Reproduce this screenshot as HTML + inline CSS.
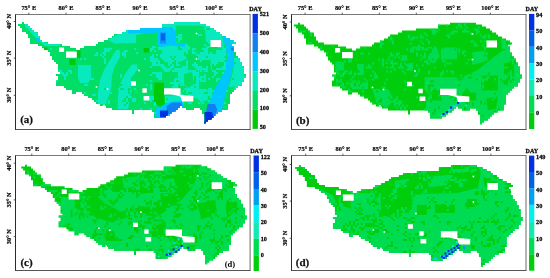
<!DOCTYPE html>
<html><head><meta charset="utf-8"><title>Figure</title>
<style>
html,body{margin:0;padding:0;background:#fff}
svg{display:block}
.t{font:bold 6.8px "Liberation Serif",serif;fill:#0a0a0a;stroke:#0a0a0a;stroke-width:0.22px}
.n{font:bold 6.9px "Liberation Serif",serif;fill:#0a0a0a;stroke:#0a0a0a;stroke-width:0.28px}
.dy{font:bold 6.5px "Liberation Serif",serif;fill:#0a0a0a;stroke:#0a0a0a;stroke-width:0.28px}
.lab{font:bold 11px "Liberation Serif",serif;fill:#111;stroke:#111;stroke-width:0.25px}
</style></head><body>
<svg width="550" height="278" viewBox="0 0 550 278">
<rect width="550" height="278" fill="#fff"/>
<defs><clipPath id="cp"><path d="M22 22h2v2h-2zM174 22h26v2h-26zM18 24h10v2h-10zM162 24h44v2h-44zM20 26h10v2h-10zM162 26h48v2h-48zM22 28h10v2h-10zM140 28h74v2h-74zM22 30h12v2h-12zM126 30h90v2h-90zM26 32h12v2h-12zM122 32h98v2h-98zM28 34h10v2h-10zM114 34h108v2h-108zM28 36h12v2h-12zM112 36h114v2h-114zM30 38h10v2h-10zM108 38h122v2h-122zM30 40h12v2h-12zM104 40h130v2h-130zM30 42h18v2h-18zM98 42h138v2h-138zM38 44h24v2h-24zM96 44h136v2h-136zM42 46h28v2h-28zM84 46h150v2h-150zM44 48h32v2h-32zM80 48h154v2h-154zM48 50h186v2h-186zM50 52h186v2h-186zM50 54h186v2h-186zM52 56h186v2h-186zM52 58h188v2h-188zM54 60h186v2h-186zM56 62h186v2h-186zM58 64h184v2h-184zM58 66h186v2h-186zM58 68h186v2h-186zM58 70h186v2h-186zM60 72h184v2h-184zM56 74h190v2h-190zM58 76h188v2h-188zM58 78h186v2h-186zM56 80h188v2h-188zM56 82h186v2h-186zM56 84h186v2h-186zM64 86h174v2h-174zM66 88h170v2h-170zM72 90h162v2h-162zM72 92h4v2h-4zM82 92h150v2h-150zM84 94h146v2h-146zM88 96h142v2h-142zM92 98h138v2h-138zM94 100h136v2h-136zM96 102h134v2h-134zM100 104h128v2h-128zM106 106h74v2h-74zM182 106h46v2h-46zM112 108h66v2h-66zM186 108h8v2h-8zM200 108h28v2h-28zM132 110h2v2h-2zM152 110h24v2h-24zM202 110h20v2h-20zM132 112h2v2h-2zM154 112h18v2h-18zM202 112h16v2h-16zM154 114h16v2h-16zM204 114h12v2h-12zM154 116h12v2h-12zM204 116h10v2h-10zM204 118h8v2h-8zM204 120h4v2h-4zM204 122h2v2h-2z"/></clipPath></defs><g clip-path="url(#cp)"><rect x="0" y="0" width="275" height="139" fill="#00DE66"/><polygon points="25,22 29,25 33,29 38,33 41,39 44,42 48,43.5 58,43.5 58,46 45,46 38,40 33,35 28,29 25,27" fill="#06EABE"/><polygon points="108,40 122,32 129,29 140,27 144,27 144,33 136,35 136,43 115,43.5" fill="#06EABE"/><polygon points="160,24 176,22 176,32 160,32" fill="#06EABE"/><polygon points="174,20 212,20 212,48 174,48" fill="#06EABE"/><polygon points="175.5,25.8 200,25.8 206,27 210,30 210,40 206,50 188,50 188,44 175.5,42" fill="#00DE66"/><polygon points="78,65 91,65 91,78 88,83 80,83 78,78" fill="#06EABE"/><polygon points="116,50 120,50 120,57 115,66 112,75 111,90 107,100 106,104 98,104 98,92 100,80 104,70 110,60" fill="#06EABE"/><polygon points="132,64.5 137,64.5 137,70 131,78 130.5,95 128,109 117.5,109 118,95 120,84 125,74" fill="#06EABE"/><polygon points="150,52 158,47 176,45 188,46 188,58 180,62 179,72 165,72 160,66 150,66" fill="#06EABE"/><polygon points="178,62 188,62 188,70 199,70 199,89 207,89 210,99 196,104 182,104 178,96 185,88 178,80" fill="#06EABE"/><polygon points="165,95.8 180,95.8 182,102 178,104 165,104" fill="#06EABE"/><polygon points="203,23.5 206,24 212,27.5 217,31 222,34.5 224,48 225,70 211,70 210,54 206,44 205,27" fill="#06EABE"/><polygon points="232,40 237,43 233,46 236,56 240,59 244,68 247,76 243,81 242.5,84 237,89 231,93 229,86 232,76 234,66 234,50" fill="#06EABE"/><polygon points="227,88 235,86 232,94 230,99 228.5,107 222,110 224,100" fill="#00DE66"/><polygon points="184,74 192,72 194,84 188,88 184,84" fill="#00DE66"/><polygon points="196,60 199,60 199,70 196,70" fill="#00DE66"/><polygon points="128,29.5 140,28 140,26.5 160,26.5 160,32 152,33 140,33 128,33.5" fill="#00C6FF"/><polygon points="157,27 172,27 176,32 176,45 160,47 157,45" fill="#00C6FF"/><polygon points="175,43 185,43 185,46.5 175,46.5" fill="#00C6FF"/><polygon points="36.5,38 40,38 40,41.5 36.5,41.5" fill="#00C6FF"/><polygon points="222,34.5 227,37.5 232.4,40 233.5,50 233,66 231,76 228,86 224,100 222,110 217,113.5 213,118 206.6,122.3 204,124.2 204.7,119 207,110 211,98 215,88 220,80 225,70 227,58 226,48" fill="#00C6FF"/><polygon points="156,108 165,103 182,100 184,107.6 176,110.8 170,114 166.5,117.2 155,117.2" fill="#00C6FF"/><polygon points="160,32.5 166,32.5 166,43.5 160,43.5" fill="#1090F8"/><polygon points="166.6,106 172,102.4 181.3,102.4 182.5,107 175.5,110.8 170.4,114 168,114 166.6,110" fill="#1080F0"/><polygon points="231,47.5 233.6,47.5 233.6,50.7 231,50.7" fill="#1080F0"/><polygon points="207.5,104 215,104 217.3,110 215,115.5 211,120 205,122 206,112" fill="#1080F0"/><polygon points="161,33.6 165,33.6 165,40.5 161,40.5" fill="#0860F0"/><polygon points="160,110.6 168,110.6 168,115 166.5,117.2 160,117.2" fill="#0030E0"/><polygon points="204.5,112 212,112 213.6,117.8 206.6,122.3 204,124.2 204.7,119" fill="#0030E0"/><polygon points="41.8,47.5 47.5,47.5 47.5,50.7 41.8,50.7" fill="#00CA08"/><polygon points="75.6,50.4 80.6,50.4 80.6,58 75.6,58" fill="#00CA08"/><polygon points="69.3,59 75.6,59 75.6,65 69.3,65" fill="#00CA08"/><polygon points="143.6,48 149.4,48 149.4,52.4 143.6,52.4" fill="#00CA08"/><polygon points="153.8,82.5 164,82.5 164,95 165,104 160,107 153.8,102" fill="#00CA08"/><path d="M206 28h2v2h-2zM208 28h2v2h-2zM206 42h2v2h-2zM210 42h2v2h-2zM206 44h2v2h-2zM208 44h2v2h-2zM210 44h2v2h-2zM212 44h2v2h-2zM214 44h2v2h-2zM178 46h2v2h-2zM210 46h2v2h-2zM212 46h2v2h-2zM214 46h2v2h-2zM216 46h2v2h-2zM154 48h2v2h-2zM156 48h2v2h-2zM178 48h2v2h-2zM180 48h2v2h-2zM208 48h2v2h-2zM210 48h2v2h-2zM212 48h2v2h-2zM214 48h2v2h-2zM216 48h2v2h-2zM218 48h2v2h-2zM220 48h2v2h-2zM152 50h2v2h-2zM156 50h2v2h-2zM158 50h2v2h-2zM160 50h2v2h-2zM208 50h2v2h-2zM210 50h2v2h-2zM212 50h2v2h-2zM214 50h2v2h-2zM150 52h2v2h-2zM152 52h2v2h-2zM154 52h2v2h-2zM156 52h2v2h-2zM158 52h2v2h-2zM160 52h2v2h-2zM184 52h2v2h-2zM212 52h2v2h-2zM214 52h2v2h-2zM234 52h2v2h-2zM150 54h2v2h-2zM154 54h2v2h-2zM158 54h2v2h-2zM184 54h2v2h-2zM186 54h2v2h-2zM234 54h2v2h-2zM154 56h2v2h-2zM156 56h2v2h-2zM158 56h2v2h-2zM170 56h2v2h-2zM174 56h2v2h-2zM186 56h2v2h-2zM234 56h2v2h-2zM236 56h2v2h-2zM158 58h2v2h-2zM160 58h2v2h-2zM172 58h2v2h-2zM160 60h2v2h-2zM162 60h2v2h-2zM174 60h2v2h-2zM150 62h2v2h-2zM156 62h2v2h-2zM160 62h2v2h-2zM162 62h2v2h-2zM164 62h2v2h-2zM166 62h2v2h-2zM172 62h2v2h-2zM174 62h2v2h-2zM178 62h2v2h-2zM180 62h2v2h-2zM182 62h2v2h-2zM184 62h2v2h-2zM218 62h2v2h-2zM220 62h2v2h-2zM222 62h2v2h-2zM234 62h2v2h-2zM150 64h2v2h-2zM164 64h2v2h-2zM166 64h2v2h-2zM170 64h2v2h-2zM174 64h2v2h-2zM180 64h2v2h-2zM182 64h2v2h-2zM184 64h2v2h-2zM212 64h2v2h-2zM216 64h2v2h-2zM218 64h2v2h-2zM220 64h2v2h-2zM222 64h2v2h-2zM166 66h2v2h-2zM168 66h2v2h-2zM174 66h2v2h-2zM176 66h2v2h-2zM178 66h2v2h-2zM180 66h2v2h-2zM212 66h2v2h-2zM214 66h2v2h-2zM216 66h2v2h-2zM218 66h2v2h-2zM220 66h2v2h-2zM172 68h2v2h-2zM212 68h2v2h-2zM214 68h2v2h-2zM170 70h2v2h-2zM196 70h2v2h-2zM244 74h2v2h-2zM194 76h2v2h-2zM194 78h2v2h-2zM232 78h2v2h-2zM194 80h2v2h-2zM194 82h2v2h-2zM120 84h2v2h-2zM184 86h2v2h-2zM194 86h2v2h-2zM104 88h2v2h-2zM120 88h2v2h-2zM122 88h2v2h-2zM128 88h2v2h-2zM128 90h2v2h-2zM184 90h2v2h-2zM128 92h2v2h-2zM182 92h2v2h-2zM184 92h2v2h-2zM188 92h2v2h-2zM190 92h2v2h-2zM204 92h2v2h-2zM206 92h2v2h-2zM184 94h2v2h-2zM186 94h2v2h-2zM126 96h2v2h-2zM186 96h2v2h-2zM190 96h2v2h-2zM208 96h2v2h-2zM124 98h2v2h-2zM128 98h2v2h-2zM166 98h2v2h-2zM190 98h2v2h-2zM192 98h2v2h-2zM194 98h2v2h-2zM196 98h2v2h-2zM208 98h2v2h-2zM122 100h2v2h-2zM124 100h2v2h-2zM128 100h2v2h-2zM184 100h2v2h-2zM186 100h2v2h-2zM188 100h2v2h-2zM190 100h2v2h-2zM192 100h2v2h-2zM194 100h2v2h-2zM196 100h2v2h-2zM198 100h2v2h-2zM126 102h2v2h-2zM184 102h2v2h-2zM186 102h2v2h-2zM192 102h2v2h-2zM194 102h2v2h-2zM196 102h2v2h-2zM124 104h2v2h-2z" fill="#00DE66"/><path d="M204 28h2v2h-2zM178 34h2v2h-2zM180 34h2v2h-2zM198 34h2v2h-2zM200 34h2v2h-2zM176 36h2v2h-2zM178 36h2v2h-2zM180 36h2v2h-2zM178 38h2v2h-2zM180 38h2v2h-2zM178 40h2v2h-2zM58 44h2v2h-2zM204 44h2v2h-2zM152 46h2v2h-2zM154 46h2v2h-2zM188 46h2v2h-2zM206 46h2v2h-2zM50 48h2v2h-2zM104 48h2v2h-2zM106 48h2v2h-2zM108 48h2v2h-2zM110 48h2v2h-2zM134 48h2v2h-2zM150 48h2v2h-2zM152 48h2v2h-2zM188 48h2v2h-2zM192 48h2v2h-2zM194 48h2v2h-2zM202 48h2v2h-2zM204 48h2v2h-2zM206 48h2v2h-2zM224 48h2v2h-2zM104 50h2v2h-2zM106 50h2v2h-2zM108 50h2v2h-2zM124 50h2v2h-2zM126 50h2v2h-2zM150 50h2v2h-2zM192 50h2v2h-2zM204 50h2v2h-2zM206 50h2v2h-2zM224 50h2v2h-2zM96 52h2v2h-2zM102 52h2v2h-2zM104 52h2v2h-2zM122 52h2v2h-2zM124 52h2v2h-2zM136 52h2v2h-2zM192 52h2v2h-2zM194 52h2v2h-2zM200 52h2v2h-2zM202 52h2v2h-2zM204 52h2v2h-2zM206 52h2v2h-2zM224 52h2v2h-2zM94 54h2v2h-2zM96 54h2v2h-2zM100 54h2v2h-2zM104 54h2v2h-2zM122 54h2v2h-2zM124 54h2v2h-2zM196 54h2v2h-2zM198 54h2v2h-2zM200 54h2v2h-2zM202 54h2v2h-2zM204 54h2v2h-2zM206 54h2v2h-2zM208 54h2v2h-2zM224 54h2v2h-2zM102 56h2v2h-2zM124 56h2v2h-2zM198 56h2v2h-2zM200 56h2v2h-2zM202 56h2v2h-2zM204 56h2v2h-2zM208 56h2v2h-2zM80 58h2v2h-2zM84 58h2v2h-2zM104 58h2v2h-2zM144 58h2v2h-2zM198 58h2v2h-2zM200 58h2v2h-2zM202 58h2v2h-2zM204 58h2v2h-2zM206 58h2v2h-2zM208 58h2v2h-2zM224 58h2v2h-2zM104 60h2v2h-2zM186 60h2v2h-2zM200 60h2v2h-2zM104 62h2v2h-2zM194 62h2v2h-2zM224 62h2v2h-2zM192 64h2v2h-2zM194 64h2v2h-2zM196 64h2v2h-2zM224 64h2v2h-2zM150 66h2v2h-2zM194 66h2v2h-2zM196 66h2v2h-2zM198 66h2v2h-2zM200 66h2v2h-2zM206 66h2v2h-2zM224 66h2v2h-2zM136 68h2v2h-2zM196 68h2v2h-2zM198 68h2v2h-2zM200 68h2v2h-2zM202 68h2v2h-2zM204 68h2v2h-2zM206 68h2v2h-2zM224 68h2v2h-2zM58 70h2v2h-2zM60 70h2v2h-2zM68 70h2v2h-2zM70 70h2v2h-2zM200 70h2v2h-2zM204 70h2v2h-2zM206 70h2v2h-2zM212 70h2v2h-2zM214 70h2v2h-2zM60 72h2v2h-2zM62 72h2v2h-2zM66 72h2v2h-2zM70 72h2v2h-2zM152 72h2v2h-2zM154 72h2v2h-2zM156 72h2v2h-2zM158 72h2v2h-2zM160 72h2v2h-2zM214 72h2v2h-2zM216 72h2v2h-2zM222 72h2v2h-2zM62 74h2v2h-2zM64 74h2v2h-2zM66 74h2v2h-2zM120 74h2v2h-2zM150 74h2v2h-2zM156 74h2v2h-2zM158 74h2v2h-2zM160 74h2v2h-2zM204 74h2v2h-2zM214 74h2v2h-2zM64 76h2v2h-2zM120 76h2v2h-2zM156 76h2v2h-2zM158 76h2v2h-2zM160 76h2v2h-2zM200 76h2v2h-2zM202 76h2v2h-2zM204 76h2v2h-2zM212 76h2v2h-2zM64 78h2v2h-2zM90 78h2v2h-2zM92 78h2v2h-2zM158 78h2v2h-2zM160 78h2v2h-2zM174 78h2v2h-2zM176 78h2v2h-2zM198 78h2v2h-2zM200 78h2v2h-2zM204 78h2v2h-2zM208 78h2v2h-2zM216 78h2v2h-2zM218 78h2v2h-2zM56 80h2v2h-2zM150 80h2v2h-2zM174 80h2v2h-2zM200 80h2v2h-2zM202 80h2v2h-2zM204 80h2v2h-2zM216 80h2v2h-2zM170 82h2v2h-2zM172 82h2v2h-2zM174 82h2v2h-2zM176 82h2v2h-2zM178 82h2v2h-2zM84 84h2v2h-2zM86 84h2v2h-2zM146 84h2v2h-2zM150 84h2v2h-2zM174 84h2v2h-2zM176 84h2v2h-2zM180 84h2v2h-2zM150 86h2v2h-2zM172 86h2v2h-2zM174 86h2v2h-2zM176 86h2v2h-2zM118 88h2v2h-2zM134 88h2v2h-2zM150 88h2v2h-2zM208 88h2v2h-2zM210 88h2v2h-2zM130 90h2v2h-2zM170 90h2v2h-2zM172 90h2v2h-2zM208 90h2v2h-2zM210 90h2v2h-2zM212 90h2v2h-2zM226 90h2v2h-2zM84 92h2v2h-2zM110 92h2v2h-2zM168 92h2v2h-2zM170 92h2v2h-2zM208 92h2v2h-2zM210 92h2v2h-2zM92 94h2v2h-2zM94 94h2v2h-2zM172 94h2v2h-2zM208 94h2v2h-2zM210 94h2v2h-2zM130 96h2v2h-2zM150 96h2v2h-2zM152 96h2v2h-2zM210 96h2v2h-2zM132 98h2v2h-2zM134 98h2v2h-2zM148 98h2v2h-2zM150 98h2v2h-2zM152 98h2v2h-2zM96 100h2v2h-2zM108 100h2v2h-2zM132 100h2v2h-2zM134 100h2v2h-2zM150 100h2v2h-2zM208 100h2v2h-2zM108 102h2v2h-2zM144 102h2v2h-2zM154 102h2v2h-2zM198 102h2v2h-2zM202 102h2v2h-2zM224 102h2v2h-2zM154 104h2v2h-2zM140 108h2v2h-2zM150 108h2v2h-2zM154 112h2v2h-2z" fill="#06EABE"/><polygon points="59,47.5 64.1,47.5 64.1,52 59,52" fill="#fff"/><polygon points="66,51.4 76.8,51.4 76.8,57.7 66,57.7" fill="#fff"/><polygon points="210.5,40 221,40 221,47 210.5,47" fill="#fff"/><polygon points="131,81.3 136,81.3 136,85.7 131,85.7" fill="#fff"/><polygon points="142.4,88.3 146.8,88.3 146.8,92.7 142.4,92.7" fill="#fff"/><polygon points="143.6,96 149.4,96 149.4,100.4 143.6,100.4" fill="#fff"/><polygon points="164,88.3 180.5,88.3 180.5,95 193.3,96 193.3,101.6 182,101.6 180.5,96.5 172,94.6 164,94.6" fill="#fff"/><rect x="195.7" y="32.7" width="1.6" height="1.6" fill="#fff"/><rect x="138.2" y="69.7" width="1.6" height="1.6" fill="#fff"/><rect x="195.7" y="58.2" width="1.6" height="1.6" fill="#fff"/><rect x="95.7" y="86.2" width="1.6" height="1.6" fill="#fff"/><rect x="106.7" y="88.2" width="1.6" height="1.6" fill="#fff"/><rect x="103.2" y="104.7" width="1.6" height="1.6" fill="#fff"/></g><line x1="15.0" y1="14.5" x2="250.6" y2="14.5" stroke="#787878" stroke-width="1"/><line x1="250.1" y1="14.5" x2="250.1" y2="129.5" stroke="#6a6a6a" stroke-width="1"/><line x1="15.0" y1="129.5" x2="250.6" y2="129.5" stroke="#555" stroke-width="1"/><line x1="15.5" y1="14.5" x2="15.5" y2="129.5" stroke="#2a2a2a" stroke-width="1"/><line x1="28.8" y1="14.5" x2="28.8" y2="12.7" stroke="#333" stroke-width="0.8"/><text transform="translate(28.80,9.90) scale(0.94,1)" text-anchor="middle" class="t">75° E</text><line x1="66" y1="14.5" x2="66" y2="12.7" stroke="#333" stroke-width="0.8"/><text transform="translate(66.00,9.90) scale(0.94,1)" text-anchor="middle" class="t">80° E</text><line x1="103" y1="14.5" x2="103" y2="12.7" stroke="#333" stroke-width="0.8"/><text transform="translate(103.00,9.90) scale(0.94,1)" text-anchor="middle" class="t">85° E</text><line x1="140" y1="14.5" x2="140" y2="12.7" stroke="#333" stroke-width="0.8"/><text transform="translate(140.00,9.90) scale(0.94,1)" text-anchor="middle" class="t">90° E</text><line x1="177" y1="14.5" x2="177" y2="12.7" stroke="#333" stroke-width="0.8"/><text transform="translate(177.00,9.90) scale(0.94,1)" text-anchor="middle" class="t">95° E</text><line x1="214" y1="14.5" x2="214" y2="12.7" stroke="#333" stroke-width="0.8"/><text transform="translate(214.00,9.90) scale(0.94,1)" text-anchor="middle" class="t">100° E</text><line x1="15.5" y1="21.5" x2="13.7" y2="21.5" stroke="#333" stroke-width="0.8"/><text transform="translate(10.70,21.50) rotate(-90) scale(0.94,1)" text-anchor="middle" class="t">40° N</text><line x1="15.5" y1="58.1" x2="13.7" y2="58.1" stroke="#333" stroke-width="0.8"/><text transform="translate(10.70,58.10) rotate(-90) scale(0.94,1)" text-anchor="middle" class="t">35° N</text><line x1="15.5" y1="95.3" x2="13.7" y2="95.3" stroke="#333" stroke-width="0.8"/><text transform="translate(10.70,95.30) rotate(-90) scale(0.94,1)" text-anchor="middle" class="t">30° N</text><rect x="252.6" y="13.9" width="5.3" height="19.5" fill="#0030E0"/><rect x="252.6" y="33.3" width="5.3" height="19.300000000000004" fill="#1080F0"/><rect x="252.6" y="52.5" width="5.3" height="19.1" fill="#00C6FF"/><rect x="252.6" y="71.5" width="5.3" height="19.500000000000007" fill="#06EABE"/><rect x="252.6" y="90.9" width="5.3" height="18.79999999999999" fill="#00DE66"/><rect x="252.6" y="109.6" width="5.3" height="19.30000000000002" fill="#00CA08"/><text transform="translate(259.70,16.15) scale(0.9,1)" text-anchor="start" class="n">521</text><text transform="translate(259.70,35.00) scale(0.9,1)" text-anchor="start" class="n">500</text><text transform="translate(259.70,53.85) scale(0.9,1)" text-anchor="start" class="n">400</text><text transform="translate(259.70,72.70) scale(0.9,1)" text-anchor="start" class="n">300</text><text transform="translate(259.70,91.55) scale(0.9,1)" text-anchor="start" class="n">200</text><text transform="translate(259.70,110.40) scale(0.9,1)" text-anchor="start" class="n">100</text><text transform="translate(259.70,129.25) scale(0.9,1)" text-anchor="start" class="n">50</text><text transform="translate(249.20,11.00) scale(0.94,1)" text-anchor="start" class="dy">DAY</text><text x="20.2" y="123.4" class="lab">(a)</text><g transform="translate(276,0.5) scale(1)"><g clip-path="url(#cp)"><rect x="0" y="0" width="275" height="139" fill="#00CE0C"/><polygon points="150,118 150,100 165,100 165,88 178,80 201,70 217,57 227,50 236,48 252,76 240,100 204,127 190,112 170,119" fill="#00DC52"/><polygon points="59.3,61.3 68,61.3 68,76.6 62,76.6 59.3,70" fill="#00DC52"/><polygon points="81,63.5 87.6,63.5 87.6,74.4 81,74.4" fill="#00DC52"/><polygon points="109.5,59 117,59 117,63.5 109.5,63.5" fill="#00DC52"/><polygon points="124.7,54.8 131.3,54.8 131.3,60.2 124.7,60.2" fill="#00DC52"/><polygon points="72.4,82 92,82 92,88.6 76,88.6" fill="#00DC52"/><polygon points="96.4,88.6 112,88.6 118,99.5 110,108 100,100" fill="#00DC52"/><polygon points="150,47 160,46 164,56 158,63 150,60" fill="#00DC52"/><polygon points="165,47 181,47 181,58.7 165,58.7" fill="#00DC52"/><polygon points="148.6,76.7 181,76.7 181,89.8 148.6,89.8" fill="#00DC52"/><polygon points="128,64 137,62 137,70 128,70" fill="#00DC52"/><polygon points="196,52 210,50 212,60 198,64" fill="#00DC52"/><polygon points="225,38 235,42 234,50 226,48" fill="#00DC52"/><polygon points="205,75 222,75 222,90 205,90" fill="#00CE0C"/><polygon points="228,62 238,62 238,74 228,74" fill="#00CE0C"/><polygon points="186,92 200,92 200,100 186,100" fill="#00CE0C"/><polygon points="210,98 222,96 220,108 212,110" fill="#00CE0C"/><path d="M230 40h2v2h-2zM230 42h2v2h-2zM232 42h2v2h-2zM156 46h2v2h-2zM164 46h2v2h-2zM166 46h2v2h-2zM152 48h2v2h-2zM154 48h2v2h-2zM178 48h2v2h-2zM150 50h2v2h-2zM152 50h2v2h-2zM154 50h2v2h-2zM208 50h2v2h-2zM150 52h2v2h-2zM152 52h2v2h-2zM150 54h2v2h-2zM208 54h2v2h-2zM124 56h2v2h-2zM150 56h2v2h-2zM234 56h2v2h-2zM236 56h2v2h-2zM114 58h2v2h-2zM150 58h2v2h-2zM156 58h2v2h-2zM110 60h2v2h-2zM112 60h2v2h-2zM152 60h2v2h-2zM234 60h2v2h-2zM238 60h2v2h-2zM112 62h2v2h-2zM238 62h2v2h-2zM128 64h2v2h-2zM128 66h2v2h-2zM130 66h2v2h-2zM80 68h2v2h-2zM128 68h2v2h-2zM62 70h2v2h-2zM64 70h2v2h-2zM66 70h2v2h-2zM80 70h2v2h-2zM82 70h2v2h-2zM64 72h2v2h-2zM194 72h2v2h-2zM212 72h2v2h-2zM62 74h2v2h-2zM232 74h2v2h-2zM236 74h2v2h-2zM186 76h2v2h-2zM192 76h2v2h-2zM194 76h2v2h-2zM232 76h2v2h-2zM182 78h2v2h-2zM184 78h2v2h-2zM200 78h2v2h-2zM224 78h2v2h-2zM230 78h2v2h-2zM232 78h2v2h-2zM236 78h2v2h-2zM154 80h2v2h-2zM156 80h2v2h-2zM226 80h2v2h-2zM228 80h2v2h-2zM230 80h2v2h-2zM234 80h2v2h-2zM78 82h2v2h-2zM84 82h2v2h-2zM228 82h2v2h-2zM230 82h2v2h-2zM78 84h2v2h-2zM82 84h2v2h-2zM152 84h2v2h-2zM154 84h2v2h-2zM156 84h2v2h-2zM182 84h2v2h-2zM86 86h2v2h-2zM152 86h2v2h-2zM104 88h2v2h-2zM152 88h2v2h-2zM158 88h2v2h-2zM190 88h2v2h-2zM100 90h2v2h-2zM188 90h2v2h-2zM190 90h2v2h-2zM192 90h2v2h-2zM218 92h2v2h-2zM176 94h2v2h-2zM182 94h2v2h-2zM112 96h2v2h-2zM174 96h2v2h-2zM182 96h2v2h-2zM104 98h2v2h-2zM114 98h2v2h-2zM116 98h2v2h-2zM164 98h2v2h-2zM178 98h2v2h-2zM182 98h2v2h-2zM184 98h2v2h-2zM102 100h2v2h-2zM104 100h2v2h-2zM154 100h2v2h-2zM190 100h2v2h-2zM192 100h2v2h-2zM204 100h2v2h-2zM190 102h2v2h-2zM196 102h2v2h-2zM204 102h2v2h-2zM208 102h2v2h-2zM196 104h2v2h-2zM162 106h2v2h-2zM188 106h2v2h-2zM158 108h2v2h-2zM188 108h2v2h-2zM222 108h2v2h-2zM158 110h2v2h-2zM218 110h2v2h-2zM156 112h2v2h-2zM202 112h2v2h-2zM206 114h2v2h-2z" fill="#00CE0C"/><path d="M182 22h2v2h-2zM188 22h2v2h-2zM162 24h2v2h-2zM170 24h2v2h-2zM182 24h2v2h-2zM184 24h2v2h-2zM188 24h2v2h-2zM180 26h2v2h-2zM184 26h2v2h-2zM190 26h2v2h-2zM202 26h2v2h-2zM154 28h2v2h-2zM156 28h2v2h-2zM158 28h2v2h-2zM162 28h2v2h-2zM188 28h2v2h-2zM198 28h2v2h-2zM200 28h2v2h-2zM22 30h2v2h-2zM24 30h2v2h-2zM26 30h2v2h-2zM28 30h2v2h-2zM32 30h2v2h-2zM156 30h2v2h-2zM158 30h2v2h-2zM160 30h2v2h-2zM176 30h2v2h-2zM178 30h2v2h-2zM180 30h2v2h-2zM186 30h2v2h-2zM188 30h2v2h-2zM190 30h2v2h-2zM192 30h2v2h-2zM200 30h2v2h-2zM202 30h2v2h-2zM34 32h2v2h-2zM148 32h2v2h-2zM156 32h2v2h-2zM158 32h2v2h-2zM174 32h2v2h-2zM176 32h2v2h-2zM194 32h2v2h-2zM200 32h2v2h-2zM34 34h2v2h-2zM132 34h2v2h-2zM144 34h2v2h-2zM150 34h2v2h-2zM170 34h2v2h-2zM172 34h2v2h-2zM204 34h2v2h-2zM208 34h2v2h-2zM212 34h2v2h-2zM114 36h2v2h-2zM132 36h2v2h-2zM136 36h2v2h-2zM138 36h2v2h-2zM140 36h2v2h-2zM144 36h2v2h-2zM146 36h2v2h-2zM172 36h2v2h-2zM206 36h2v2h-2zM208 36h2v2h-2zM212 36h2v2h-2zM114 38h2v2h-2zM134 38h2v2h-2zM136 38h2v2h-2zM150 38h2v2h-2zM104 40h2v2h-2zM116 40h2v2h-2zM144 40h2v2h-2zM152 40h2v2h-2zM194 40h2v2h-2zM196 40h2v2h-2zM204 40h2v2h-2zM208 40h2v2h-2zM210 40h2v2h-2zM32 42h2v2h-2zM34 42h2v2h-2zM104 42h2v2h-2zM106 42h2v2h-2zM116 42h2v2h-2zM134 42h2v2h-2zM146 42h2v2h-2zM152 42h2v2h-2zM198 42h2v2h-2zM220 42h2v2h-2zM56 44h2v2h-2zM104 44h2v2h-2zM142 44h2v2h-2zM198 44h2v2h-2zM200 44h2v2h-2zM206 44h2v2h-2zM44 46h2v2h-2zM84 46h2v2h-2zM88 46h2v2h-2zM104 46h2v2h-2zM136 46h2v2h-2zM138 46h2v2h-2zM140 46h2v2h-2zM142 46h2v2h-2zM144 46h2v2h-2zM146 46h2v2h-2zM208 46h2v2h-2zM44 48h2v2h-2zM130 48h2v2h-2zM134 48h2v2h-2zM136 48h2v2h-2zM140 48h2v2h-2zM142 48h2v2h-2zM146 48h2v2h-2zM148 48h2v2h-2zM182 48h2v2h-2zM208 48h2v2h-2zM134 50h2v2h-2zM136 50h2v2h-2zM182 50h2v2h-2zM186 50h2v2h-2zM188 50h2v2h-2zM50 52h2v2h-2zM84 52h2v2h-2zM86 52h2v2h-2zM92 52h2v2h-2zM114 52h2v2h-2zM120 52h2v2h-2zM122 52h2v2h-2zM140 52h2v2h-2zM148 52h2v2h-2zM186 52h2v2h-2zM210 52h2v2h-2zM74 54h2v2h-2zM114 54h2v2h-2zM116 54h2v2h-2zM120 54h2v2h-2zM140 54h2v2h-2zM144 54h2v2h-2zM148 54h2v2h-2zM188 54h2v2h-2zM74 56h2v2h-2zM112 56h2v2h-2zM118 56h2v2h-2zM122 56h2v2h-2zM146 56h2v2h-2zM148 56h2v2h-2zM72 58h2v2h-2zM74 58h2v2h-2zM102 58h2v2h-2zM106 58h2v2h-2zM144 58h2v2h-2zM166 58h2v2h-2zM192 58h2v2h-2zM68 60h2v2h-2zM72 60h2v2h-2zM74 60h2v2h-2zM106 60h2v2h-2zM148 60h2v2h-2zM150 60h2v2h-2zM166 60h2v2h-2zM168 60h2v2h-2zM196 60h2v2h-2zM96 62h2v2h-2zM106 62h2v2h-2zM116 62h2v2h-2zM118 62h2v2h-2zM120 62h2v2h-2zM124 62h2v2h-2zM128 62h2v2h-2zM150 62h2v2h-2zM152 62h2v2h-2zM170 62h2v2h-2zM172 62h2v2h-2zM174 62h2v2h-2zM190 62h2v2h-2zM196 62h2v2h-2zM236 62h2v2h-2zM92 64h2v2h-2zM106 64h2v2h-2zM116 64h2v2h-2zM124 64h2v2h-2zM140 64h2v2h-2zM146 64h2v2h-2zM168 64h2v2h-2zM90 66h2v2h-2zM92 66h2v2h-2zM94 66h2v2h-2zM110 66h2v2h-2zM114 66h2v2h-2zM116 66h2v2h-2zM122 66h2v2h-2zM124 66h2v2h-2zM126 66h2v2h-2zM158 66h2v2h-2zM228 66h2v2h-2zM230 66h2v2h-2zM118 68h2v2h-2zM142 68h2v2h-2zM68 70h2v2h-2zM70 70h2v2h-2zM74 70h2v2h-2zM96 70h2v2h-2zM110 70h2v2h-2zM114 70h2v2h-2zM126 70h2v2h-2zM138 70h2v2h-2zM142 70h2v2h-2zM152 70h2v2h-2zM166 70h2v2h-2zM170 70h2v2h-2zM174 70h2v2h-2zM176 70h2v2h-2zM234 70h2v2h-2zM68 72h2v2h-2zM72 72h2v2h-2zM74 72h2v2h-2zM78 72h2v2h-2zM98 72h2v2h-2zM128 72h2v2h-2zM140 72h2v2h-2zM152 72h2v2h-2zM164 72h2v2h-2zM166 72h2v2h-2zM176 72h2v2h-2zM232 72h2v2h-2zM234 72h2v2h-2zM56 74h2v2h-2zM58 74h2v2h-2zM78 74h2v2h-2zM94 74h2v2h-2zM98 74h2v2h-2zM100 74h2v2h-2zM138 74h2v2h-2zM140 74h2v2h-2zM164 74h2v2h-2zM184 74h2v2h-2zM58 76h2v2h-2zM76 76h2v2h-2zM98 76h2v2h-2zM100 76h2v2h-2zM204 76h2v2h-2zM210 76h2v2h-2zM212 76h2v2h-2zM60 78h2v2h-2zM64 78h2v2h-2zM74 78h2v2h-2zM88 78h2v2h-2zM96 78h2v2h-2zM110 78h2v2h-2zM204 78h2v2h-2zM206 78h2v2h-2zM208 78h2v2h-2zM210 78h2v2h-2zM218 78h2v2h-2zM60 80h2v2h-2zM62 80h2v2h-2zM64 80h2v2h-2zM76 80h2v2h-2zM78 80h2v2h-2zM82 80h2v2h-2zM90 80h2v2h-2zM128 80h2v2h-2zM206 80h2v2h-2zM66 82h2v2h-2zM70 82h2v2h-2zM108 82h2v2h-2zM132 82h2v2h-2zM60 84h2v2h-2zM64 84h2v2h-2zM66 84h2v2h-2zM130 84h2v2h-2zM132 84h2v2h-2zM136 84h2v2h-2zM206 84h2v2h-2zM66 86h2v2h-2zM68 86h2v2h-2zM106 86h2v2h-2zM108 86h2v2h-2zM206 86h2v2h-2zM72 88h2v2h-2zM128 88h2v2h-2zM204 88h2v2h-2zM72 90h2v2h-2zM74 90h2v2h-2zM86 90h2v2h-2zM150 90h2v2h-2zM154 90h2v2h-2zM152 92h2v2h-2zM86 94h2v2h-2zM154 94h2v2h-2zM162 94h2v2h-2zM120 96h2v2h-2zM140 96h2v2h-2zM152 96h2v2h-2zM154 96h2v2h-2zM218 96h2v2h-2zM118 98h2v2h-2zM120 98h2v2h-2zM152 98h2v2h-2zM192 98h2v2h-2zM216 98h2v2h-2zM100 100h2v2h-2zM116 100h2v2h-2zM118 100h2v2h-2zM122 100h2v2h-2zM124 100h2v2h-2zM96 102h2v2h-2zM102 102h2v2h-2zM118 102h2v2h-2zM120 102h2v2h-2zM122 102h2v2h-2zM124 102h2v2h-2zM102 104h2v2h-2zM118 104h2v2h-2zM122 104h2v2h-2zM126 104h2v2h-2zM130 104h2v2h-2zM120 106h2v2h-2zM124 106h2v2h-2zM128 106h2v2h-2zM124 108h2v2h-2zM128 108h2v2h-2zM148 108h2v2h-2z" fill="#00DC52"/><polyline points="169,113 176,107.5 182,103" fill="none" stroke="#28B4F0" stroke-width="1.6"/><rect x="164.6" y="114.1" width="1.8" height="1.8" fill="#20E0E8"/><rect x="172.1" y="108.6" width="1.8" height="1.8" fill="#20E0E8"/><rect x="177.6" y="105.1" width="1.8" height="1.8" fill="#20E0E8"/><rect x="183.1" y="100.1" width="1.8" height="1.8" fill="#20E0E8"/><rect x="189.1" y="104.1" width="1.8" height="1.8" fill="#20E0E8"/><rect x="166.5" y="112.5" width="2.1" height="2.1" fill="#0030E0"/><rect x="170" y="110.5" width="2.1" height="2.1" fill="#0030E0"/><rect x="174" y="106" width="2.1" height="2.1" fill="#0030E0"/><rect x="181" y="101.5" width="2.1" height="2.1" fill="#0030E0"/><polygon points="59,47.5 64.1,47.5 64.1,52 59,52" fill="#fff"/><polygon points="66,51.4 76.8,51.4 76.8,57.7 66,57.7" fill="#fff"/><polygon points="210.5,40 221,40 221,47 210.5,47" fill="#fff"/><polygon points="131,81.3 136,81.3 136,85.7 131,85.7" fill="#fff"/><polygon points="142.4,88.3 146.8,88.3 146.8,92.7 142.4,92.7" fill="#fff"/><polygon points="143.6,96 149.4,96 149.4,100.4 143.6,100.4" fill="#fff"/><polygon points="164,88.3 180.5,88.3 180.5,95 193.3,96 193.3,101.6 182,101.6 180.5,96.5 172,94.6 164,94.6" fill="#fff"/><rect x="195.7" y="32.7" width="1.6" height="1.6" fill="#fff"/><rect x="138.2" y="69.7" width="1.6" height="1.6" fill="#fff"/><rect x="195.7" y="58.2" width="1.6" height="1.6" fill="#fff"/><rect x="95.7" y="86.2" width="1.6" height="1.6" fill="#fff"/><rect x="106.7" y="88.2" width="1.6" height="1.6" fill="#fff"/><rect x="103.2" y="104.7" width="1.6" height="1.6" fill="#fff"/></g></g><line x1="291.0" y1="14.5" x2="526.5" y2="14.5" stroke="#787878" stroke-width="1"/><line x1="526" y1="14.5" x2="526" y2="129.5" stroke="#6a6a6a" stroke-width="1"/><line x1="291.0" y1="129.5" x2="526.5" y2="129.5" stroke="#555" stroke-width="1"/><line x1="291.5" y1="14.5" x2="291.5" y2="129.5" stroke="#2a2a2a" stroke-width="1"/><line x1="305.1" y1="14.5" x2="305.1" y2="12.7" stroke="#333" stroke-width="0.8"/><text transform="translate(305.10,9.90) scale(0.94,1)" text-anchor="middle" class="t">75° E</text><line x1="342.3" y1="14.5" x2="342.3" y2="12.7" stroke="#333" stroke-width="0.8"/><text transform="translate(342.30,9.90) scale(0.94,1)" text-anchor="middle" class="t">80° E</text><line x1="379.3" y1="14.5" x2="379.3" y2="12.7" stroke="#333" stroke-width="0.8"/><text transform="translate(379.30,9.90) scale(0.94,1)" text-anchor="middle" class="t">85° E</text><line x1="416.3" y1="14.5" x2="416.3" y2="12.7" stroke="#333" stroke-width="0.8"/><text transform="translate(416.30,9.90) scale(0.94,1)" text-anchor="middle" class="t">90° E</text><line x1="453.3" y1="14.5" x2="453.3" y2="12.7" stroke="#333" stroke-width="0.8"/><text transform="translate(453.30,9.90) scale(0.94,1)" text-anchor="middle" class="t">95° E</text><line x1="490.3" y1="14.5" x2="490.3" y2="12.7" stroke="#333" stroke-width="0.8"/><text transform="translate(490.30,9.90) scale(0.94,1)" text-anchor="middle" class="t">100° E</text><line x1="291.5" y1="22.0" x2="289.7" y2="22.0" stroke="#333" stroke-width="0.8"/><text transform="translate(286.70,22.00) rotate(-90) scale(0.94,1)" text-anchor="middle" class="t">40° N</text><line x1="291.5" y1="58.6" x2="289.7" y2="58.6" stroke="#333" stroke-width="0.8"/><text transform="translate(286.70,58.60) rotate(-90) scale(0.94,1)" text-anchor="middle" class="t">35° N</text><line x1="291.5" y1="95.8" x2="289.7" y2="95.8" stroke="#333" stroke-width="0.8"/><text transform="translate(286.70,95.80) rotate(-90) scale(0.94,1)" text-anchor="middle" class="t">30° N</text><rect x="529" y="13.9" width="5.3" height="16.5" fill="#0030E0"/><rect x="529" y="30.3" width="5.3" height="16.500000000000004" fill="#0060E6"/><rect x="529" y="46.7" width="5.3" height="16.5" fill="#00A0F0"/><rect x="529" y="63.1" width="5.3" height="16.5" fill="#00F0F0"/><rect x="529" y="79.5" width="5.3" height="16.500000000000007" fill="#14E8B4"/><rect x="529" y="95.9" width="5.3" height="16.79999999999999" fill="#00DC52"/><rect x="529" y="112.6" width="5.3" height="16.400000000000013" fill="#00CE0C"/><text transform="translate(536.10,17.05) scale(0.9,1)" text-anchor="start" class="n">94</text><text transform="translate(536.10,33.40) scale(0.9,1)" text-anchor="start" class="n">50</text><text transform="translate(536.10,49.75) scale(0.9,1)" text-anchor="start" class="n">40</text><text transform="translate(536.10,66.10) scale(0.9,1)" text-anchor="start" class="n">30</text><text transform="translate(536.10,82.45) scale(0.9,1)" text-anchor="start" class="n">20</text><text transform="translate(536.10,98.80) scale(0.9,1)" text-anchor="start" class="n">10</text><text transform="translate(536.10,115.15) scale(0.9,1)" text-anchor="start" class="n">0</text><text transform="translate(525.60,11.00) scale(0.94,1)" text-anchor="start" class="dy">DAY</text><text x="295.9" y="123.5" class="lab">(b)</text><g transform="translate(3.2880000000000003,143.024) scale(0.99,0.98)"><g clip-path="url(#cp)"><rect x="0" y="0" width="275" height="139" fill="#00CE0C"/><polygon points="50,58 70,65 90,75 110,81 133,73 156,75 180,58 190,47 196,35 200,18 252,18 252,130 50,130" fill="#00DC52"/><polygon points="58.2,55 72,55 72,66 58.2,66" fill="#00DC52"/><polygon points="104,50 136,50 136,66 118,70 104,62" fill="#00DC52"/><polygon points="150,38 172,36 176,50 152,52" fill="#00DC52"/><polygon points="120,36 136,34 138,44 122,46" fill="#00DC52"/><polygon points="136,52 158,50 160,62 150,66 136,64" fill="#00DC52"/><polygon points="196,62 214,58 216,72 200,78" fill="#00CE0C"/><polygon points="150,80 164,80 164,96 150,96" fill="#00CE0C"/><polygon points="225,60 236,60 236,72 225,72" fill="#00CE0C"/><polygon points="100,90 112,90 114,100 104,100" fill="#00CE0C"/><polygon points="205,40 212,48 204,52" fill="#00CE0C"/><path d="M204 24h2v2h-2zM206 26h2v2h-2zM196 30h2v2h-2zM200 30h2v2h-2zM202 30h2v2h-2zM204 30h2v2h-2zM196 32h2v2h-2zM198 32h2v2h-2zM208 32h2v2h-2zM196 34h2v2h-2zM202 34h2v2h-2zM206 34h2v2h-2zM122 36h2v2h-2zM162 36h2v2h-2zM198 36h2v2h-2zM204 36h2v2h-2zM124 38h2v2h-2zM134 38h2v2h-2zM152 38h2v2h-2zM154 38h2v2h-2zM156 38h2v2h-2zM160 38h2v2h-2zM208 38h2v2h-2zM226 38h2v2h-2zM228 38h2v2h-2zM130 40h2v2h-2zM132 40h2v2h-2zM152 40h2v2h-2zM156 40h2v2h-2zM168 40h2v2h-2zM200 40h2v2h-2zM206 40h2v2h-2zM228 40h2v2h-2zM230 40h2v2h-2zM132 42h2v2h-2zM134 42h2v2h-2zM150 42h2v2h-2zM158 42h2v2h-2zM160 42h2v2h-2zM168 42h2v2h-2zM200 42h2v2h-2zM208 42h2v2h-2zM224 42h2v2h-2zM228 42h2v2h-2zM230 42h2v2h-2zM152 44h2v2h-2zM156 44h2v2h-2zM158 44h2v2h-2zM160 44h2v2h-2zM162 44h2v2h-2zM168 44h2v2h-2zM170 44h2v2h-2zM172 44h2v2h-2zM200 44h2v2h-2zM226 44h2v2h-2zM228 44h2v2h-2zM230 44h2v2h-2zM158 46h2v2h-2zM162 46h2v2h-2zM166 46h2v2h-2zM172 46h2v2h-2zM174 46h2v2h-2zM198 46h2v2h-2zM216 46h2v2h-2zM218 46h2v2h-2zM222 46h2v2h-2zM158 48h2v2h-2zM160 48h2v2h-2zM162 48h2v2h-2zM164 48h2v2h-2zM168 48h2v2h-2zM174 48h2v2h-2zM194 48h2v2h-2zM212 48h2v2h-2zM220 48h2v2h-2zM224 48h2v2h-2zM118 50h2v2h-2zM130 50h2v2h-2zM134 50h2v2h-2zM192 50h2v2h-2zM194 50h2v2h-2zM200 50h2v2h-2zM214 50h2v2h-2zM218 50h2v2h-2zM220 50h2v2h-2zM116 52h2v2h-2zM120 52h2v2h-2zM134 52h2v2h-2zM136 52h2v2h-2zM194 52h2v2h-2zM202 52h2v2h-2zM218 52h2v2h-2zM220 52h2v2h-2zM116 54h2v2h-2zM118 54h2v2h-2zM134 54h2v2h-2zM150 54h2v2h-2zM190 54h2v2h-2zM192 54h2v2h-2zM198 54h2v2h-2zM204 54h2v2h-2zM206 54h2v2h-2zM216 54h2v2h-2zM218 54h2v2h-2zM220 54h2v2h-2zM114 56h2v2h-2zM192 56h2v2h-2zM196 56h2v2h-2zM202 56h2v2h-2zM216 56h2v2h-2zM220 56h2v2h-2zM228 56h2v2h-2zM106 58h2v2h-2zM108 58h2v2h-2zM112 58h2v2h-2zM114 58h2v2h-2zM142 58h2v2h-2zM148 58h2v2h-2zM156 58h2v2h-2zM158 58h2v2h-2zM188 58h2v2h-2zM192 58h2v2h-2zM194 58h2v2h-2zM206 58h2v2h-2zM226 58h2v2h-2zM108 60h2v2h-2zM110 60h2v2h-2zM112 60h2v2h-2zM144 60h2v2h-2zM146 60h2v2h-2zM148 60h2v2h-2zM152 60h2v2h-2zM154 60h2v2h-2zM156 60h2v2h-2zM190 60h2v2h-2zM194 60h2v2h-2zM110 62h2v2h-2zM144 62h2v2h-2zM148 62h2v2h-2zM152 62h2v2h-2zM154 62h2v2h-2zM156 62h2v2h-2zM172 62h2v2h-2zM174 62h2v2h-2zM176 62h2v2h-2zM178 62h2v2h-2zM188 62h2v2h-2zM190 62h2v2h-2zM192 62h2v2h-2zM130 64h2v2h-2zM146 64h2v2h-2zM176 64h2v2h-2zM186 64h2v2h-2zM192 64h2v2h-2zM194 64h2v2h-2zM124 66h2v2h-2zM128 66h2v2h-2zM174 66h2v2h-2zM176 66h2v2h-2zM180 66h2v2h-2zM188 66h2v2h-2zM190 66h2v2h-2zM192 66h2v2h-2zM194 66h2v2h-2zM236 66h2v2h-2zM58 68h2v2h-2zM68 68h2v2h-2zM174 68h2v2h-2zM190 68h2v2h-2zM68 70h2v2h-2zM74 70h2v2h-2zM78 70h2v2h-2zM172 70h2v2h-2zM68 72h2v2h-2zM72 72h2v2h-2zM76 72h2v2h-2zM78 72h2v2h-2zM80 72h2v2h-2zM174 72h2v2h-2zM176 72h2v2h-2zM178 72h2v2h-2zM214 72h2v2h-2zM226 72h2v2h-2zM228 72h2v2h-2zM68 74h2v2h-2zM76 74h2v2h-2zM80 74h2v2h-2zM84 74h2v2h-2zM132 74h2v2h-2zM134 74h2v2h-2zM138 74h2v2h-2zM150 74h2v2h-2zM152 74h2v2h-2zM158 74h2v2h-2zM172 74h2v2h-2zM174 74h2v2h-2zM176 74h2v2h-2zM208 74h2v2h-2zM216 74h2v2h-2zM226 74h2v2h-2zM240 74h2v2h-2zM76 76h2v2h-2zM94 76h2v2h-2zM126 76h2v2h-2zM128 76h2v2h-2zM146 76h2v2h-2zM148 76h2v2h-2zM150 76h2v2h-2zM210 76h2v2h-2zM220 76h2v2h-2zM222 76h2v2h-2zM224 76h2v2h-2zM234 76h2v2h-2zM90 78h2v2h-2zM92 78h2v2h-2zM138 78h2v2h-2zM146 78h2v2h-2zM152 78h2v2h-2zM154 78h2v2h-2zM156 78h2v2h-2zM158 78h2v2h-2zM160 78h2v2h-2zM170 78h2v2h-2zM172 78h2v2h-2zM222 78h2v2h-2zM226 78h2v2h-2zM228 78h2v2h-2zM92 80h2v2h-2zM104 80h2v2h-2zM118 80h2v2h-2zM126 80h2v2h-2zM128 80h2v2h-2zM136 80h2v2h-2zM142 80h2v2h-2zM144 80h2v2h-2zM146 80h2v2h-2zM148 80h2v2h-2zM172 80h2v2h-2zM206 80h2v2h-2zM226 80h2v2h-2zM228 80h2v2h-2zM234 80h2v2h-2zM64 82h2v2h-2zM66 82h2v2h-2zM104 82h2v2h-2zM116 82h2v2h-2zM126 82h2v2h-2zM130 82h2v2h-2zM132 82h2v2h-2zM134 82h2v2h-2zM138 82h2v2h-2zM178 82h2v2h-2zM204 82h2v2h-2zM210 82h2v2h-2zM224 82h2v2h-2zM230 82h2v2h-2zM60 84h2v2h-2zM62 84h2v2h-2zM64 84h2v2h-2zM102 84h2v2h-2zM132 84h2v2h-2zM136 84h2v2h-2zM138 84h2v2h-2zM140 84h2v2h-2zM142 84h2v2h-2zM174 84h2v2h-2zM180 84h2v2h-2zM196 84h2v2h-2zM198 84h2v2h-2zM204 84h2v2h-2zM206 84h2v2h-2zM208 84h2v2h-2zM224 84h2v2h-2zM228 84h2v2h-2zM232 84h2v2h-2zM236 84h2v2h-2zM64 86h2v2h-2zM66 86h2v2h-2zM68 86h2v2h-2zM94 86h2v2h-2zM106 86h2v2h-2zM132 86h2v2h-2zM134 86h2v2h-2zM140 86h2v2h-2zM168 86h2v2h-2zM176 86h2v2h-2zM178 86h2v2h-2zM196 86h2v2h-2zM202 86h2v2h-2zM208 86h2v2h-2zM232 86h2v2h-2zM68 88h2v2h-2zM92 88h2v2h-2zM100 88h2v2h-2zM104 88h2v2h-2zM132 88h2v2h-2zM134 88h2v2h-2zM136 88h2v2h-2zM166 88h2v2h-2zM170 88h2v2h-2zM172 88h2v2h-2zM174 88h2v2h-2zM196 88h2v2h-2zM212 88h2v2h-2zM230 88h2v2h-2zM92 90h2v2h-2zM134 90h2v2h-2zM148 90h2v2h-2zM164 90h2v2h-2zM166 90h2v2h-2zM170 90h2v2h-2zM174 90h2v2h-2zM176 90h2v2h-2zM178 90h2v2h-2zM200 90h2v2h-2zM228 90h2v2h-2zM90 92h2v2h-2zM92 92h2v2h-2zM94 92h2v2h-2zM96 92h2v2h-2zM98 92h2v2h-2zM164 92h2v2h-2zM166 92h2v2h-2zM168 92h2v2h-2zM192 92h2v2h-2zM198 92h2v2h-2zM212 92h2v2h-2zM90 94h2v2h-2zM92 94h2v2h-2zM128 94h2v2h-2zM130 94h2v2h-2zM164 94h2v2h-2zM166 94h2v2h-2zM168 94h2v2h-2zM170 94h2v2h-2zM172 94h2v2h-2zM178 94h2v2h-2zM192 94h2v2h-2zM194 94h2v2h-2zM198 94h2v2h-2zM220 94h2v2h-2zM224 94h2v2h-2zM226 94h2v2h-2zM90 96h2v2h-2zM96 96h2v2h-2zM114 96h2v2h-2zM126 96h2v2h-2zM128 96h2v2h-2zM144 96h2v2h-2zM148 96h2v2h-2zM156 96h2v2h-2zM166 96h2v2h-2zM170 96h2v2h-2zM172 96h2v2h-2zM174 96h2v2h-2zM190 96h2v2h-2zM192 96h2v2h-2zM194 96h2v2h-2zM198 96h2v2h-2zM212 96h2v2h-2zM220 96h2v2h-2zM92 98h2v2h-2zM114 98h2v2h-2zM116 98h2v2h-2zM118 98h2v2h-2zM146 98h2v2h-2zM158 98h2v2h-2zM168 98h2v2h-2zM172 98h2v2h-2zM174 98h2v2h-2zM178 98h2v2h-2zM188 98h2v2h-2zM194 98h2v2h-2zM208 98h2v2h-2zM210 98h2v2h-2zM212 98h2v2h-2zM218 98h2v2h-2zM226 98h2v2h-2zM172 100h2v2h-2zM176 100h2v2h-2zM178 100h2v2h-2zM188 100h2v2h-2zM190 100h2v2h-2zM192 100h2v2h-2zM194 100h2v2h-2zM210 100h2v2h-2zM214 100h2v2h-2zM216 100h2v2h-2zM220 100h2v2h-2zM124 102h2v2h-2zM172 102h2v2h-2zM174 102h2v2h-2zM178 102h2v2h-2zM180 102h2v2h-2zM214 102h2v2h-2zM220 102h2v2h-2zM124 104h2v2h-2zM144 104h2v2h-2zM158 104h2v2h-2zM170 104h2v2h-2zM174 104h2v2h-2zM176 104h2v2h-2zM180 104h2v2h-2zM188 104h2v2h-2zM190 104h2v2h-2zM192 104h2v2h-2zM216 104h2v2h-2zM174 106h2v2h-2zM176 106h2v2h-2zM184 106h2v2h-2zM190 106h2v2h-2zM214 106h2v2h-2zM218 106h2v2h-2zM132 108h2v2h-2zM134 108h2v2h-2zM136 108h2v2h-2zM146 108h2v2h-2zM148 108h2v2h-2zM156 108h2v2h-2zM158 108h2v2h-2zM160 108h2v2h-2zM168 108h2v2h-2zM170 108h2v2h-2zM172 108h2v2h-2zM174 108h2v2h-2zM176 108h2v2h-2zM188 108h2v2h-2zM192 108h2v2h-2zM216 108h2v2h-2zM160 110h2v2h-2zM172 110h2v2h-2zM174 110h2v2h-2zM216 110h2v2h-2zM132 112h2v2h-2zM154 112h2v2h-2zM214 112h2v2h-2zM216 112h2v2h-2zM212 114h2v2h-2zM154 116h2v2h-2zM156 116h2v2h-2zM158 116h2v2h-2zM212 116h2v2h-2z" fill="#00CE0C"/><path d="M180 22h2v2h-2zM182 22h2v2h-2zM184 22h2v2h-2zM188 22h2v2h-2zM190 22h2v2h-2zM196 22h2v2h-2zM162 24h2v2h-2zM164 24h2v2h-2zM166 24h2v2h-2zM168 24h2v2h-2zM180 24h2v2h-2zM184 24h2v2h-2zM186 24h2v2h-2zM188 24h2v2h-2zM162 26h2v2h-2zM164 26h2v2h-2zM166 26h2v2h-2zM168 26h2v2h-2zM192 26h2v2h-2zM196 26h2v2h-2zM24 28h2v2h-2zM154 28h2v2h-2zM162 28h2v2h-2zM164 28h2v2h-2zM170 28h2v2h-2zM178 28h2v2h-2zM180 28h2v2h-2zM192 28h2v2h-2zM24 30h2v2h-2zM30 30h2v2h-2zM32 30h2v2h-2zM132 30h2v2h-2zM138 30h2v2h-2zM140 30h2v2h-2zM142 30h2v2h-2zM152 30h2v2h-2zM154 30h2v2h-2zM156 30h2v2h-2zM158 30h2v2h-2zM164 30h2v2h-2zM166 30h2v2h-2zM168 30h2v2h-2zM172 30h2v2h-2zM26 32h2v2h-2zM36 32h2v2h-2zM136 32h2v2h-2zM148 32h2v2h-2zM150 32h2v2h-2zM160 32h2v2h-2zM162 32h2v2h-2zM182 32h2v2h-2zM194 32h2v2h-2zM30 34h2v2h-2zM136 34h2v2h-2zM140 34h2v2h-2zM150 34h2v2h-2zM154 34h2v2h-2zM158 34h2v2h-2zM188 34h2v2h-2zM194 34h2v2h-2zM138 36h2v2h-2zM140 36h2v2h-2zM142 36h2v2h-2zM144 36h2v2h-2zM148 36h2v2h-2zM152 36h2v2h-2zM154 36h2v2h-2zM156 36h2v2h-2zM158 36h2v2h-2zM136 38h2v2h-2zM142 38h2v2h-2zM144 38h2v2h-2zM40 40h2v2h-2zM108 40h2v2h-2zM110 40h2v2h-2zM144 40h2v2h-2zM146 40h2v2h-2zM186 40h2v2h-2zM30 42h2v2h-2zM32 42h2v2h-2zM38 42h2v2h-2zM40 42h2v2h-2zM42 42h2v2h-2zM44 42h2v2h-2zM46 42h2v2h-2zM102 42h2v2h-2zM140 42h2v2h-2zM144 42h2v2h-2zM146 42h2v2h-2zM188 42h2v2h-2zM190 42h2v2h-2zM206 42h2v2h-2zM38 44h2v2h-2zM104 44h2v2h-2zM108 44h2v2h-2zM132 44h2v2h-2zM134 44h2v2h-2zM136 44h2v2h-2zM142 44h2v2h-2zM144 44h2v2h-2zM174 44h2v2h-2zM188 44h2v2h-2zM204 44h2v2h-2zM206 44h2v2h-2zM42 46h2v2h-2zM62 46h2v2h-2zM98 46h2v2h-2zM106 46h2v2h-2zM124 46h2v2h-2zM130 46h2v2h-2zM134 46h2v2h-2zM136 46h2v2h-2zM146 46h2v2h-2zM204 46h2v2h-2zM46 48h2v2h-2zM48 48h2v2h-2zM50 48h2v2h-2zM52 48h2v2h-2zM62 48h2v2h-2zM66 48h2v2h-2zM68 48h2v2h-2zM70 48h2v2h-2zM72 48h2v2h-2zM74 48h2v2h-2zM98 48h2v2h-2zM102 48h2v2h-2zM104 48h2v2h-2zM106 48h2v2h-2zM108 48h2v2h-2zM118 48h2v2h-2zM120 48h2v2h-2zM124 48h2v2h-2zM50 50h2v2h-2zM56 50h2v2h-2zM68 50h2v2h-2zM74 50h2v2h-2zM78 50h2v2h-2zM80 50h2v2h-2zM98 50h2v2h-2zM102 50h2v2h-2zM136 50h2v2h-2zM170 50h2v2h-2zM54 52h2v2h-2zM76 52h2v2h-2zM98 52h2v2h-2zM162 52h2v2h-2zM164 52h2v2h-2zM174 52h2v2h-2zM52 54h2v2h-2zM56 54h2v2h-2zM78 54h2v2h-2zM80 54h2v2h-2zM82 54h2v2h-2zM86 54h2v2h-2zM96 54h2v2h-2zM98 54h2v2h-2zM100 54h2v2h-2zM76 56h2v2h-2zM80 56h2v2h-2zM84 56h2v2h-2zM98 56h2v2h-2zM100 56h2v2h-2zM102 56h2v2h-2zM176 56h2v2h-2zM80 58h2v2h-2zM100 58h2v2h-2zM102 58h2v2h-2zM78 60h2v2h-2zM82 60h2v2h-2zM102 60h2v2h-2zM78 62h2v2h-2zM80 62h2v2h-2zM82 62h2v2h-2zM158 62h2v2h-2zM166 62h2v2h-2zM78 64h2v2h-2zM80 64h2v2h-2zM84 64h2v2h-2zM86 64h2v2h-2zM98 64h2v2h-2zM102 64h2v2h-2zM152 64h2v2h-2zM168 64h2v2h-2zM82 66h2v2h-2zM98 66h2v2h-2zM100 66h2v2h-2zM148 66h2v2h-2zM164 66h2v2h-2zM166 66h2v2h-2zM232 66h2v2h-2zM80 68h2v2h-2zM82 68h2v2h-2zM126 68h2v2h-2zM132 68h2v2h-2zM206 68h2v2h-2zM230 68h2v2h-2zM82 70h2v2h-2zM84 70h2v2h-2zM86 70h2v2h-2zM124 70h2v2h-2zM128 70h2v2h-2zM130 70h2v2h-2zM134 70h2v2h-2zM138 70h2v2h-2zM148 70h2v2h-2zM152 70h2v2h-2zM214 70h2v2h-2zM228 70h2v2h-2zM232 70h2v2h-2zM108 72h2v2h-2zM112 72h2v2h-2zM124 72h2v2h-2zM128 72h2v2h-2zM130 72h2v2h-2zM134 72h2v2h-2zM136 72h2v2h-2zM140 72h2v2h-2zM142 72h2v2h-2zM154 72h2v2h-2zM210 72h2v2h-2zM212 72h2v2h-2zM90 74h2v2h-2zM106 74h2v2h-2zM108 74h2v2h-2zM116 76h2v2h-2zM114 78h2v2h-2zM150 80h2v2h-2zM152 80h2v2h-2zM154 80h2v2h-2zM156 80h2v2h-2zM158 80h2v2h-2zM150 82h2v2h-2zM154 82h2v2h-2zM152 84h2v2h-2zM150 88h2v2h-2zM154 88h2v2h-2zM162 88h2v2h-2zM100 90h2v2h-2zM102 90h2v2h-2zM162 90h2v2h-2zM108 92h2v2h-2zM156 94h2v2h-2zM160 94h2v2h-2z" fill="#00DC52"/><polyline points="166,114 172,110.5 178,107.5 181,104" fill="none" stroke="#28B4F0" stroke-width="1.6"/><rect x="172.1" y="101.1" width="1.8" height="1.8" fill="#20E0E8"/><rect x="176.1" y="97.1" width="1.8" height="1.8" fill="#20E0E8"/><rect x="180.1" y="101.6" width="1.8" height="1.8" fill="#20E0E8"/><rect x="156.1" y="115.1" width="1.8" height="1.8" fill="#20E0E8"/><rect x="174.1" y="105.1" width="1.8" height="1.8" fill="#20E0E8"/><rect x="166.1" y="109.1" width="1.8" height="1.8" fill="#20E0E8"/><rect x="164" y="113" width="2.1" height="2.1" fill="#0030E0"/><rect x="167.5" y="112" width="2.1" height="2.1" fill="#0030E0"/><rect x="171" y="107.5" width="2.1" height="2.1" fill="#0030E0"/><rect x="173.5" y="110" width="2.1" height="2.1" fill="#0030E0"/><rect x="176.5" y="108" width="2.1" height="2.1" fill="#0030E0"/><rect x="179" y="104" width="2.1" height="2.1" fill="#0030E0"/><rect x="185.8" y="105.8" width="2.1" height="2.1" fill="#0030E0"/><polygon points="59,47.5 64.1,47.5 64.1,52 59,52" fill="#fff"/><polygon points="66,51.4 76.8,51.4 76.8,57.7 66,57.7" fill="#fff"/><polygon points="210.5,40 221,40 221,47 210.5,47" fill="#fff"/><polygon points="131,81.3 136,81.3 136,85.7 131,85.7" fill="#fff"/><polygon points="142.4,88.3 146.8,88.3 146.8,92.7 142.4,92.7" fill="#fff"/><polygon points="143.6,96 149.4,96 149.4,100.4 143.6,100.4" fill="#fff"/><polygon points="164,88.3 180.5,88.3 180.5,95 193.3,96 193.3,101.6 182,101.6 180.5,96.5 172,94.6 164,94.6" fill="#fff"/><rect x="195.7" y="32.7" width="1.6" height="1.6" fill="#fff"/><rect x="138.2" y="69.7" width="1.6" height="1.6" fill="#fff"/><rect x="195.7" y="58.2" width="1.6" height="1.6" fill="#fff"/><rect x="95.7" y="86.2" width="1.6" height="1.6" fill="#fff"/><rect x="106.7" y="88.2" width="1.6" height="1.6" fill="#fff"/><rect x="103.2" y="104.7" width="1.6" height="1.6" fill="#fff"/></g></g><line x1="15.0" y1="155.5" x2="250.6" y2="155.5" stroke="#787878" stroke-width="1"/><line x1="250.1" y1="155.5" x2="250.1" y2="270.5" stroke="#6a6a6a" stroke-width="1"/><line x1="15.0" y1="270.5" x2="250.6" y2="270.5" stroke="#555" stroke-width="1"/><line x1="15.5" y1="155.5" x2="15.5" y2="270.5" stroke="#2a2a2a" stroke-width="1"/><line x1="31.8" y1="155.5" x2="31.8" y2="153.7" stroke="#333" stroke-width="0.8"/><text transform="translate(31.80,150.90) scale(0.94,1)" text-anchor="middle" class="t">75° E</text><line x1="68.628" y1="155.5" x2="68.628" y2="153.7" stroke="#333" stroke-width="0.8"/><text transform="translate(68.63,150.90) scale(0.94,1)" text-anchor="middle" class="t">80° E</text><line x1="105.258" y1="155.5" x2="105.258" y2="153.7" stroke="#333" stroke-width="0.8"/><text transform="translate(105.26,150.90) scale(0.94,1)" text-anchor="middle" class="t">85° E</text><line x1="141.888" y1="155.5" x2="141.888" y2="153.7" stroke="#333" stroke-width="0.8"/><text transform="translate(141.89,150.90) scale(0.94,1)" text-anchor="middle" class="t">90° E</text><line x1="178.518" y1="155.5" x2="178.518" y2="153.7" stroke="#333" stroke-width="0.8"/><text transform="translate(178.52,150.90) scale(0.94,1)" text-anchor="middle" class="t">95° E</text><line x1="215.148" y1="155.5" x2="215.148" y2="153.7" stroke="#333" stroke-width="0.8"/><text transform="translate(215.15,150.90) scale(0.94,1)" text-anchor="middle" class="t">100° E</text><line x1="15.5" y1="163.2" x2="13.7" y2="163.2" stroke="#333" stroke-width="0.8"/><text transform="translate(10.70,163.20) rotate(-90) scale(0.94,1)" text-anchor="middle" class="t">40° N</text><line x1="15.5" y1="199.9" x2="13.7" y2="199.9" stroke="#333" stroke-width="0.8"/><text transform="translate(10.70,199.90) rotate(-90) scale(0.94,1)" text-anchor="middle" class="t">35° N</text><line x1="15.5" y1="236.6" x2="13.7" y2="236.6" stroke="#333" stroke-width="0.8"/><text transform="translate(10.70,236.60) rotate(-90) scale(0.94,1)" text-anchor="middle" class="t">30° N</text><rect x="253.6" y="155.5" width="5.3" height="16.79999999999999" fill="#0030E0"/><rect x="253.6" y="172.2" width="5.3" height="16.80000000000002" fill="#0060E6"/><rect x="253.6" y="188.9" width="5.3" height="16.699999999999996" fill="#00A0F0"/><rect x="253.6" y="205.5" width="5.3" height="16.699999999999996" fill="#00F0F0"/><rect x="253.6" y="222.1" width="5.3" height="16.699999999999996" fill="#14E8B4"/><rect x="253.6" y="238.7" width="5.3" height="16.700000000000024" fill="#00DC52"/><rect x="253.6" y="255.3" width="5.3" height="15.699999999999966" fill="#00CE0C"/><text transform="translate(260.70,159.45) scale(0.9,1)" text-anchor="start" class="n">122</text><text transform="translate(260.70,175.30) scale(0.9,1)" text-anchor="start" class="n">50</text><text transform="translate(260.70,191.65) scale(0.9,1)" text-anchor="start" class="n">40</text><text transform="translate(260.70,208.00) scale(0.9,1)" text-anchor="start" class="n">30</text><text transform="translate(260.70,224.35) scale(0.9,1)" text-anchor="start" class="n">20</text><text transform="translate(260.70,240.70) scale(0.9,1)" text-anchor="start" class="n">10</text><text transform="translate(260.70,257.05) scale(0.9,1)" text-anchor="start" class="n">0</text><text transform="translate(250.20,152.60) scale(0.94,1)" text-anchor="start" class="dy">DAY</text><text x="20.4" y="266" class="lab">(c)</text><text x="224.7" y="267" style="font:bold 8.5px 'Liberation Serif',serif">(d)</text><g transform="translate(276.9,143) scale(1)"><g clip-path="url(#cp)"><rect x="0" y="0" width="275" height="139" fill="#00DC52"/><polygon points="17,20 30,22 60,44 75,50 100,45 112,36 140,27 200,21 204,30 201,45 180,50 150,51 135,52 135,66 120,76 104,72 104,50 74,50 74,66 60,60 55,52 45,47 30,44 17,30" fill="#00CE0C"/><polygon points="158,61 178,61 178,70 158,70" fill="#00CE0C"/><polygon points="84,74 100,74 100,84 84,84" fill="#00CE0C"/><polygon points="140,62 150,62 150,72 140,72" fill="#00CE0C"/><polygon points="206,34 216,36 218,46 208,44" fill="#00CE0C"/><polygon points="190,56 200,56 200,64 190,64" fill="#00CE0C"/><polygon points="150,34 170,32 172,42 152,44" fill="#00DC52"/><polygon points="118,38 130,36 130,44 118,46" fill="#00DC52"/><polygon points="176,21 198,21 200,28 178,30" fill="#00DC52"/><path d="M176 22h2v2h-2zM178 22h2v2h-2zM180 22h2v2h-2zM182 22h2v2h-2zM186 22h2v2h-2zM188 22h2v2h-2zM190 22h2v2h-2zM176 24h2v2h-2zM178 24h2v2h-2zM180 24h2v2h-2zM182 24h2v2h-2zM184 24h2v2h-2zM186 24h2v2h-2zM192 24h2v2h-2zM194 24h2v2h-2zM196 24h2v2h-2zM192 26h2v2h-2zM178 28h2v2h-2zM216 32h2v2h-2zM218 32h2v2h-2zM154 34h2v2h-2zM218 34h2v2h-2zM150 36h2v2h-2zM152 36h2v2h-2zM222 36h2v2h-2zM152 38h2v2h-2zM168 38h2v2h-2zM216 38h2v2h-2zM218 38h2v2h-2zM122 40h2v2h-2zM128 40h2v2h-2zM170 40h2v2h-2zM228 40h2v2h-2zM230 40h2v2h-2zM232 40h2v2h-2zM124 42h2v2h-2zM230 42h2v2h-2zM232 42h2v2h-2zM234 42h2v2h-2zM122 44h2v2h-2zM228 44h2v2h-2zM230 44h2v2h-2zM204 46h2v2h-2zM214 46h2v2h-2zM198 48h2v2h-2zM200 48h2v2h-2zM204 48h2v2h-2zM206 48h2v2h-2zM210 48h2v2h-2zM228 48h2v2h-2zM230 48h2v2h-2zM232 48h2v2h-2zM98 50h2v2h-2zM100 50h2v2h-2zM198 50h2v2h-2zM200 50h2v2h-2zM204 50h2v2h-2zM206 50h2v2h-2zM208 50h2v2h-2zM218 50h2v2h-2zM94 52h2v2h-2zM98 52h2v2h-2zM100 52h2v2h-2zM136 52h2v2h-2zM206 52h2v2h-2zM98 54h2v2h-2zM150 54h2v2h-2zM156 54h2v2h-2zM206 54h2v2h-2zM90 56h2v2h-2zM96 56h2v2h-2zM134 56h2v2h-2zM154 56h2v2h-2zM176 56h2v2h-2zM208 56h2v2h-2zM58 58h2v2h-2zM90 58h2v2h-2zM94 58h2v2h-2zM96 58h2v2h-2zM98 58h2v2h-2zM152 58h2v2h-2zM156 58h2v2h-2zM158 58h2v2h-2zM168 58h2v2h-2zM174 58h2v2h-2zM218 58h2v2h-2zM220 58h2v2h-2zM224 58h2v2h-2zM56 60h2v2h-2zM60 60h2v2h-2zM80 60h2v2h-2zM82 60h2v2h-2zM92 60h2v2h-2zM98 60h2v2h-2zM100 60h2v2h-2zM134 60h2v2h-2zM188 60h2v2h-2zM200 60h2v2h-2zM218 60h2v2h-2zM58 62h2v2h-2zM60 62h2v2h-2zM96 62h2v2h-2zM152 62h2v2h-2zM188 62h2v2h-2zM220 62h2v2h-2zM58 64h2v2h-2zM62 64h2v2h-2zM78 64h2v2h-2zM82 64h2v2h-2zM150 64h2v2h-2zM152 64h2v2h-2zM190 64h2v2h-2zM230 64h2v2h-2zM58 66h2v2h-2zM62 66h2v2h-2zM80 66h2v2h-2zM84 66h2v2h-2zM100 66h2v2h-2zM228 66h2v2h-2zM230 66h2v2h-2zM78 68h2v2h-2zM82 68h2v2h-2zM102 68h2v2h-2zM130 68h2v2h-2zM228 68h2v2h-2zM80 70h2v2h-2zM82 70h2v2h-2zM84 70h2v2h-2zM96 70h2v2h-2zM102 70h2v2h-2zM218 70h2v2h-2zM232 70h2v2h-2zM88 72h2v2h-2zM90 72h2v2h-2zM92 72h2v2h-2zM96 72h2v2h-2zM102 72h2v2h-2zM104 72h2v2h-2zM156 72h2v2h-2zM158 72h2v2h-2zM216 72h2v2h-2zM232 72h2v2h-2zM236 72h2v2h-2zM238 72h2v2h-2zM240 72h2v2h-2zM114 74h2v2h-2zM126 74h2v2h-2zM128 74h2v2h-2zM134 74h2v2h-2zM136 74h2v2h-2zM160 74h2v2h-2zM202 74h2v2h-2zM214 74h2v2h-2zM230 74h2v2h-2zM78 76h2v2h-2zM80 76h2v2h-2zM102 76h2v2h-2zM116 76h2v2h-2zM130 76h2v2h-2zM132 76h2v2h-2zM210 76h2v2h-2zM216 76h2v2h-2zM220 76h2v2h-2zM228 76h2v2h-2zM234 76h2v2h-2zM72 78h2v2h-2zM76 78h2v2h-2zM104 78h2v2h-2zM134 78h2v2h-2zM136 78h2v2h-2zM144 78h2v2h-2zM146 78h2v2h-2zM162 78h2v2h-2zM170 78h2v2h-2zM172 78h2v2h-2zM192 78h2v2h-2zM196 78h2v2h-2zM200 78h2v2h-2zM202 78h2v2h-2zM206 78h2v2h-2zM208 78h2v2h-2zM210 78h2v2h-2zM214 78h2v2h-2zM216 78h2v2h-2zM218 78h2v2h-2zM220 78h2v2h-2zM236 78h2v2h-2zM68 80h2v2h-2zM72 80h2v2h-2zM76 80h2v2h-2zM80 80h2v2h-2zM102 80h2v2h-2zM104 80h2v2h-2zM128 80h2v2h-2zM146 80h2v2h-2zM170 80h2v2h-2zM194 80h2v2h-2zM218 80h2v2h-2zM66 82h2v2h-2zM70 82h2v2h-2zM74 82h2v2h-2zM78 82h2v2h-2zM100 82h2v2h-2zM106 82h2v2h-2zM120 82h2v2h-2zM182 82h2v2h-2zM188 82h2v2h-2zM194 82h2v2h-2zM206 82h2v2h-2zM222 82h2v2h-2zM224 82h2v2h-2zM226 82h2v2h-2zM234 82h2v2h-2zM66 84h2v2h-2zM74 84h2v2h-2zM82 84h2v2h-2zM84 84h2v2h-2zM86 84h2v2h-2zM102 84h2v2h-2zM104 84h2v2h-2zM128 84h2v2h-2zM180 84h2v2h-2zM184 84h2v2h-2zM186 84h2v2h-2zM188 84h2v2h-2zM194 84h2v2h-2zM204 84h2v2h-2zM206 84h2v2h-2zM220 84h2v2h-2zM222 84h2v2h-2zM232 84h2v2h-2zM64 86h2v2h-2zM66 86h2v2h-2zM68 86h2v2h-2zM74 86h2v2h-2zM76 86h2v2h-2zM84 86h2v2h-2zM96 86h2v2h-2zM98 86h2v2h-2zM100 86h2v2h-2zM106 86h2v2h-2zM108 86h2v2h-2zM120 86h2v2h-2zM186 86h2v2h-2zM190 86h2v2h-2zM192 86h2v2h-2zM208 86h2v2h-2zM222 86h2v2h-2zM228 86h2v2h-2zM72 88h2v2h-2zM76 88h2v2h-2zM80 88h2v2h-2zM90 88h2v2h-2zM92 88h2v2h-2zM96 88h2v2h-2zM98 88h2v2h-2zM100 88h2v2h-2zM108 88h2v2h-2zM110 88h2v2h-2zM128 88h2v2h-2zM152 88h2v2h-2zM170 88h2v2h-2zM184 88h2v2h-2zM196 88h2v2h-2zM204 88h2v2h-2zM206 88h2v2h-2zM208 88h2v2h-2zM226 88h2v2h-2zM234 88h2v2h-2zM78 90h2v2h-2zM80 90h2v2h-2zM92 90h2v2h-2zM94 90h2v2h-2zM96 90h2v2h-2zM114 90h2v2h-2zM126 90h2v2h-2zM132 90h2v2h-2zM138 90h2v2h-2zM140 90h2v2h-2zM148 90h2v2h-2zM164 90h2v2h-2zM172 90h2v2h-2zM180 90h2v2h-2zM194 90h2v2h-2zM204 90h2v2h-2zM208 90h2v2h-2zM90 92h2v2h-2zM128 92h2v2h-2zM146 92h2v2h-2zM148 92h2v2h-2zM182 92h2v2h-2zM194 92h2v2h-2zM206 92h2v2h-2zM214 92h2v2h-2zM92 94h2v2h-2zM110 94h2v2h-2zM132 94h2v2h-2zM136 94h2v2h-2zM140 94h2v2h-2zM164 94h2v2h-2zM168 94h2v2h-2zM172 94h2v2h-2zM180 94h2v2h-2zM182 94h2v2h-2zM198 94h2v2h-2zM212 94h2v2h-2zM214 94h2v2h-2zM222 94h2v2h-2zM126 96h2v2h-2zM128 96h2v2h-2zM132 96h2v2h-2zM136 96h2v2h-2zM148 96h2v2h-2zM178 96h2v2h-2zM180 96h2v2h-2zM182 96h2v2h-2zM188 96h2v2h-2zM198 96h2v2h-2zM210 96h2v2h-2zM212 96h2v2h-2zM214 96h2v2h-2zM216 96h2v2h-2zM220 96h2v2h-2zM92 98h2v2h-2zM114 98h2v2h-2zM134 98h2v2h-2zM144 98h2v2h-2zM146 98h2v2h-2zM162 98h2v2h-2zM164 98h2v2h-2zM204 98h2v2h-2zM216 98h2v2h-2zM220 98h2v2h-2zM114 100h2v2h-2zM160 100h2v2h-2zM162 100h2v2h-2zM186 100h2v2h-2zM192 100h2v2h-2zM204 100h2v2h-2zM210 100h2v2h-2zM212 100h2v2h-2zM216 100h2v2h-2zM110 102h2v2h-2zM112 102h2v2h-2zM114 102h2v2h-2zM134 102h2v2h-2zM160 102h2v2h-2zM182 102h2v2h-2zM194 102h2v2h-2zM196 102h2v2h-2zM206 102h2v2h-2zM208 102h2v2h-2zM210 102h2v2h-2zM212 102h2v2h-2zM224 102h2v2h-2zM226 102h2v2h-2zM228 102h2v2h-2zM108 104h2v2h-2zM118 104h2v2h-2zM156 104h2v2h-2zM182 104h2v2h-2zM194 104h2v2h-2zM196 104h2v2h-2zM132 106h2v2h-2zM158 106h2v2h-2zM224 106h2v2h-2zM226 106h2v2h-2zM126 108h2v2h-2zM128 108h2v2h-2zM132 108h2v2h-2zM134 108h2v2h-2zM136 108h2v2h-2zM156 108h2v2h-2zM160 108h2v2h-2zM220 108h2v2h-2zM222 108h2v2h-2zM224 108h2v2h-2zM154 112h2v2h-2zM168 114h2v2h-2zM206 116h2v2h-2zM204 120h2v2h-2zM206 120h2v2h-2z" fill="#00CE0C"/><path d="M22 22h2v2h-2zM198 22h2v2h-2zM18 24h2v2h-2zM26 24h2v2h-2zM174 24h2v2h-2zM174 26h2v2h-2zM176 26h2v2h-2zM140 28h2v2h-2zM144 28h2v2h-2zM146 28h2v2h-2zM148 28h2v2h-2zM172 28h2v2h-2zM176 28h2v2h-2zM194 28h2v2h-2zM134 30h2v2h-2zM142 30h2v2h-2zM146 30h2v2h-2zM150 32h2v2h-2zM170 32h2v2h-2zM172 32h2v2h-2zM174 32h2v2h-2zM32 34h2v2h-2zM34 34h2v2h-2zM142 34h2v2h-2zM146 34h2v2h-2zM170 34h2v2h-2zM172 34h2v2h-2zM178 34h2v2h-2zM130 36h2v2h-2zM146 36h2v2h-2zM148 36h2v2h-2zM172 36h2v2h-2zM174 36h2v2h-2zM176 36h2v2h-2zM178 36h2v2h-2zM182 36h2v2h-2zM184 36h2v2h-2zM186 36h2v2h-2zM188 36h2v2h-2zM214 36h2v2h-2zM178 38h2v2h-2zM180 38h2v2h-2zM182 38h2v2h-2zM210 38h2v2h-2zM142 40h2v2h-2zM182 40h2v2h-2zM184 40h2v2h-2zM140 42h2v2h-2zM144 42h2v2h-2zM172 42h2v2h-2zM182 42h2v2h-2zM184 42h2v2h-2zM138 44h2v2h-2zM140 44h2v2h-2zM144 44h2v2h-2zM168 44h2v2h-2zM170 44h2v2h-2zM214 44h2v2h-2zM116 46h2v2h-2zM118 46h2v2h-2zM148 46h2v2h-2zM80 48h2v2h-2zM94 48h2v2h-2zM98 48h2v2h-2zM116 48h2v2h-2zM118 48h2v2h-2zM134 48h2v2h-2zM146 48h2v2h-2zM148 48h2v2h-2zM166 48h2v2h-2zM172 48h2v2h-2zM114 50h2v2h-2zM116 50h2v2h-2zM134 50h2v2h-2zM144 50h2v2h-2zM64 52h2v2h-2zM112 52h2v2h-2zM118 52h2v2h-2zM62 54h2v2h-2zM68 54h2v2h-2zM106 54h2v2h-2zM116 54h2v2h-2zM118 54h2v2h-2zM62 56h2v2h-2zM114 56h2v2h-2zM62 58h2v2h-2zM62 60h2v2h-2zM64 60h2v2h-2zM162 60h2v2h-2zM168 60h2v2h-2zM170 60h2v2h-2zM172 60h2v2h-2zM176 60h2v2h-2zM196 60h2v2h-2zM108 62h2v2h-2zM112 62h2v2h-2zM170 62h2v2h-2zM198 62h2v2h-2zM110 64h2v2h-2zM124 64h2v2h-2zM128 64h2v2h-2zM120 66h2v2h-2zM124 66h2v2h-2zM126 66h2v2h-2zM170 66h2v2h-2zM120 68h2v2h-2zM126 68h2v2h-2zM116 70h2v2h-2zM120 70h2v2h-2zM124 70h2v2h-2zM126 70h2v2h-2zM114 72h2v2h-2zM116 72h2v2h-2zM120 72h2v2h-2zM88 74h2v2h-2zM92 74h2v2h-2zM94 74h2v2h-2zM96 74h2v2h-2zM116 74h2v2h-2zM118 74h2v2h-2zM84 76h2v2h-2zM88 76h2v2h-2zM92 76h2v2h-2zM84 78h2v2h-2zM86 78h2v2h-2zM88 78h2v2h-2zM90 78h2v2h-2zM92 78h2v2h-2zM94 78h2v2h-2zM86 80h2v2h-2zM98 80h2v2h-2zM84 82h2v2h-2zM86 82h2v2h-2z" fill="#00DC52"/><polyline points="165,115.5 172,110 178,105 183,101.5" fill="none" stroke="#28B4F0" stroke-width="1.6"/><rect x="163.1" y="112.1" width="1.8" height="1.8" fill="#20E0E8"/><rect x="169.1" y="107.1" width="1.8" height="1.8" fill="#20E0E8"/><rect x="175.1" y="102.1" width="1.8" height="1.8" fill="#20E0E8"/><rect x="179.1" y="98.1" width="1.8" height="1.8" fill="#20E0E8"/><rect x="178.1" y="107.1" width="1.8" height="1.8" fill="#20E0E8"/><rect x="171.1" y="112.1" width="1.8" height="1.8" fill="#20E0E8"/><rect x="164" y="112.5" width="2.1" height="2.1" fill="#0030E0"/><rect x="166" y="114" width="2.1" height="2.1" fill="#0030E0"/><rect x="167.5" y="109.5" width="2.1" height="2.1" fill="#0030E0"/><rect x="168.5" y="112" width="2.1" height="2.1" fill="#0030E0"/><rect x="170.5" y="107" width="2.1" height="2.1" fill="#0030E0"/><rect x="171.5" y="110" width="2.1" height="2.1" fill="#0030E0"/><rect x="173.5" y="105.5" width="2.1" height="2.1" fill="#0030E0"/><rect x="174.5" y="108" width="2.1" height="2.1" fill="#0030E0"/><rect x="176.5" y="104" width="2.1" height="2.1" fill="#0030E0"/><rect x="177.5" y="106.5" width="2.1" height="2.1" fill="#0030E0"/><rect x="179" y="102" width="2.1" height="2.1" fill="#0030E0"/><rect x="180.5" y="104" width="2.1" height="2.1" fill="#0030E0"/><rect x="181" y="100.5" width="2.1" height="2.1" fill="#0030E0"/><rect x="186" y="103" width="2.2" height="3.4" fill="#2090F0"/><rect x="157" y="115" width="3" height="2" fill="#20C8F0"/><rect x="231" y="96" width="1.6" height="1.6" fill="#20E8D0"/><rect x="229" y="102" width="1.6" height="1.6" fill="#20E8D0"/><rect x="226" y="108" width="1.6" height="1.6" fill="#20E8D0"/><rect x="233" y="90" width="1.6" height="1.6" fill="#20E8D0"/><rect x="213" y="118" width="1.6" height="1.6" fill="#20E8D0"/><rect x="219" y="112" width="1.6" height="1.6" fill="#20E8D0"/><polygon points="59,47.5 64.1,47.5 64.1,52 59,52" fill="#fff"/><polygon points="66,51.4 76.8,51.4 76.8,57.7 66,57.7" fill="#fff"/><polygon points="210.5,40 221,40 221,47 210.5,47" fill="#fff"/><polygon points="131,81.3 136,81.3 136,85.7 131,85.7" fill="#fff"/><polygon points="142.4,88.3 146.8,88.3 146.8,92.7 142.4,92.7" fill="#fff"/><polygon points="143.6,96 149.4,96 149.4,100.4 143.6,100.4" fill="#fff"/><polygon points="164,88.3 180.5,88.3 180.5,95 193.3,96 193.3,101.6 182,101.6 180.5,96.5 172,94.6 164,94.6" fill="#fff"/><rect x="195.7" y="32.7" width="1.6" height="1.6" fill="#fff"/><rect x="138.2" y="69.7" width="1.6" height="1.6" fill="#fff"/><rect x="195.7" y="58.2" width="1.6" height="1.6" fill="#fff"/><rect x="95.7" y="86.2" width="1.6" height="1.6" fill="#fff"/><rect x="106.7" y="88.2" width="1.6" height="1.6" fill="#fff"/><rect x="103.2" y="104.7" width="1.6" height="1.6" fill="#fff"/></g></g><line x1="291.0" y1="155.5" x2="526.5" y2="155.5" stroke="#787878" stroke-width="1"/><line x1="526" y1="155.5" x2="526" y2="270.5" stroke="#6a6a6a" stroke-width="1"/><line x1="291.0" y1="270.5" x2="526.5" y2="270.5" stroke="#555" stroke-width="1"/><line x1="291.5" y1="155.5" x2="291.5" y2="270.5" stroke="#2a2a2a" stroke-width="1"/><line x1="305.7" y1="155.5" x2="305.7" y2="153.7" stroke="#333" stroke-width="0.8"/><text transform="translate(305.70,150.90) scale(0.94,1)" text-anchor="middle" class="t">75° E</text><line x1="342.9" y1="155.5" x2="342.9" y2="153.7" stroke="#333" stroke-width="0.8"/><text transform="translate(342.90,150.90) scale(0.94,1)" text-anchor="middle" class="t">80° E</text><line x1="379.9" y1="155.5" x2="379.9" y2="153.7" stroke="#333" stroke-width="0.8"/><text transform="translate(379.90,150.90) scale(0.94,1)" text-anchor="middle" class="t">85° E</text><line x1="416.9" y1="155.5" x2="416.9" y2="153.7" stroke="#333" stroke-width="0.8"/><text transform="translate(416.90,150.90) scale(0.94,1)" text-anchor="middle" class="t">90° E</text><line x1="453.9" y1="155.5" x2="453.9" y2="153.7" stroke="#333" stroke-width="0.8"/><text transform="translate(453.90,150.90) scale(0.94,1)" text-anchor="middle" class="t">95° E</text><line x1="490.9" y1="155.5" x2="490.9" y2="153.7" stroke="#333" stroke-width="0.8"/><text transform="translate(490.90,150.90) scale(0.94,1)" text-anchor="middle" class="t">100° E</text><line x1="291.5" y1="164.5" x2="289.7" y2="164.5" stroke="#333" stroke-width="0.8"/><text transform="translate(286.70,164.50) rotate(-90) scale(0.94,1)" text-anchor="middle" class="t">40° N</text><line x1="291.5" y1="201.1" x2="289.7" y2="201.1" stroke="#333" stroke-width="0.8"/><text transform="translate(286.70,201.10) rotate(-90) scale(0.94,1)" text-anchor="middle" class="t">35° N</text><line x1="291.5" y1="238.3" x2="289.7" y2="238.3" stroke="#333" stroke-width="0.8"/><text transform="translate(286.70,238.30) rotate(-90) scale(0.94,1)" text-anchor="middle" class="t">30° N</text><rect x="529" y="155.6" width="5.3" height="16.500000000000007" fill="#0030E0"/><rect x="529" y="172.0" width="5.3" height="16.49999999999998" fill="#0060E6"/><rect x="529" y="188.39999999999998" width="5.3" height="16.500000000000007" fill="#00A0F0"/><rect x="529" y="204.79999999999998" width="5.3" height="16.500000000000007" fill="#00F0F0"/><rect x="529" y="221.2" width="5.3" height="16.500000000000007" fill="#14E8B4"/><rect x="529" y="237.6" width="5.3" height="16.79999999999999" fill="#00DC52"/><rect x="529" y="254.29999999999998" width="5.3" height="16.40000000000004" fill="#00CE0C"/><text transform="translate(536.10,159.45) scale(0.9,1)" text-anchor="start" class="n">149</text><text transform="translate(536.10,175.30) scale(0.9,1)" text-anchor="start" class="n">50</text><text transform="translate(536.10,191.65) scale(0.9,1)" text-anchor="start" class="n">40</text><text transform="translate(536.10,208.00) scale(0.9,1)" text-anchor="start" class="n">30</text><text transform="translate(536.10,224.35) scale(0.9,1)" text-anchor="start" class="n">20</text><text transform="translate(536.10,240.70) scale(0.9,1)" text-anchor="start" class="n">10</text><text transform="translate(536.10,257.05) scale(0.9,1)" text-anchor="start" class="n">0</text><text transform="translate(525.60,152.70) scale(0.94,1)" text-anchor="start" class="dy">DAY</text><text x="295.8" y="266" class="lab">(d)</text>
</svg>
</body></html>
